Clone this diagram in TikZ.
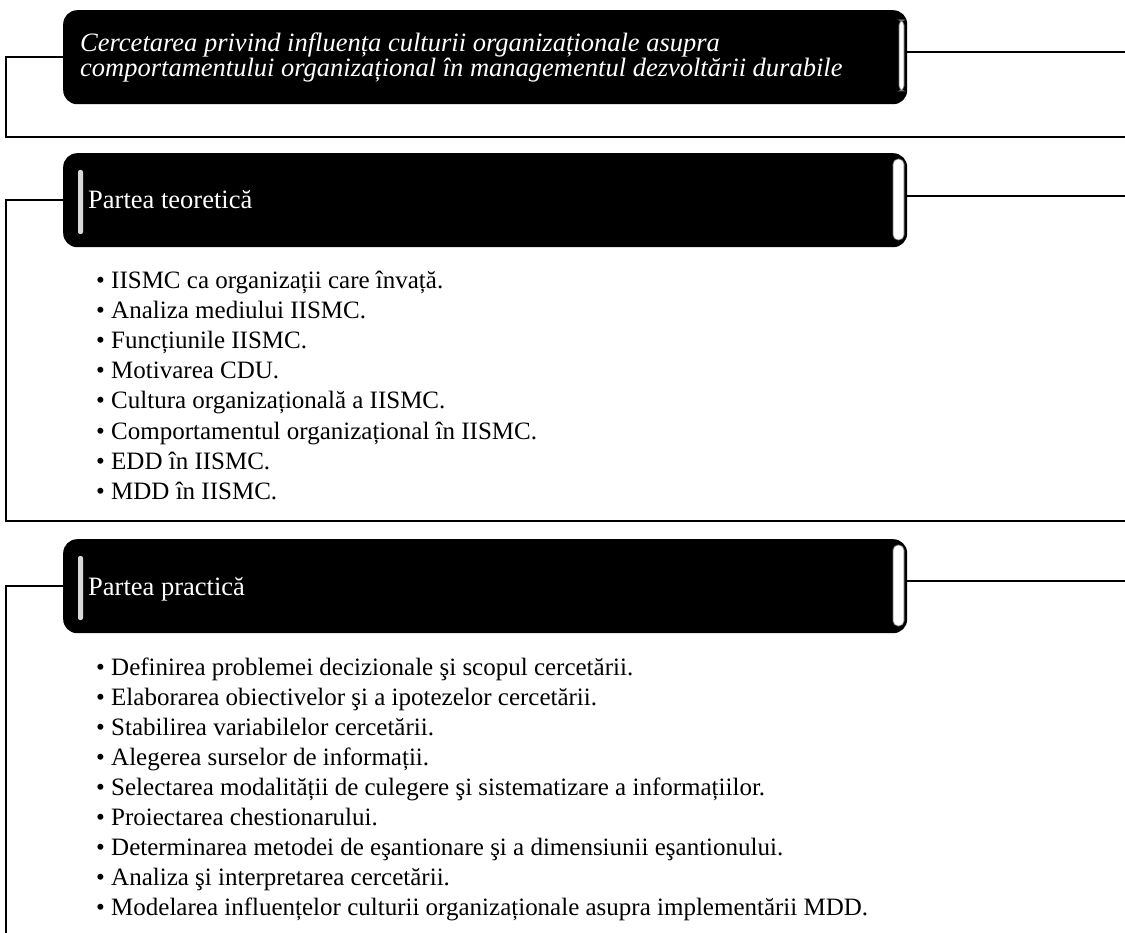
\documentclass[tikz,border=0pt]{standalone}
\usepackage{fontspec}
\setmainfont{Liberation Serif}
\begin{document}
\begin{tikzpicture}[x=1pt,y=-1pt,
  hdr/.style={fill=black, rounded corners=14pt, minimum width=844pt, minimum height=94pt, anchor=north west, inner sep=0pt},
  lbl/.style={text=white, anchor=base west, inner sep=0pt, font=\fontsize{26.5}{30}\selectfont},
  itm/.style={anchor=base west, inner sep=0pt, font=\fontsize{25}{30}\selectfont},
  brk/.style={line width=2.2pt},
  con/.style={line width=1.4pt},
  rbar/.style={fill=white, draw=black!55, line width=0.7pt, rounded corners=5pt},
  lbar/.style={fill=white!85!black, rounded corners=2pt}]
\useasboundingbox (0,0) rectangle (1125,933);
\fill[white] (0,0) rectangle (1125,933);

% header boxes
\node[hdr] (b1) at (63,10) {};
\node[hdr] (b2) at (63,153) {};
\node[hdr] (b3) at (63,539) {};

% bars
\draw[rbar] (899,20) rectangle (904,91);
\draw[rbar] (893,159) rectangle (904,240);
\draw[rbar] (893,545) rectangle (904,626);
\fill[lbar] (78,170) rectangle (83,234);
\fill[lbar] (78,556) rectangle (83,620);

% header texts
\node[anchor=west, text=white, align=left, inner sep=0pt,
      font=\fontsize{26.5}{25}\selectfont\itshape] (t1) at (80,57)
  {Cercetarea privind influența culturii organizaționale asupra\\comportamentului organizațional în managementul dezvoltării durabile};
\node[lbl] (t2) at (88,209) {Partea teoretică};
\node[lbl] (t3) at (88,595) {Partea practică};

% connectors
\coordinate (k1) at (6,137);  \coordinate (e1) at (1125,137); \coordinate (r1) at (1125,52);
\coordinate (k2) at (6,521);  \coordinate (e2) at (1125,521); \coordinate (r2) at (1125,196);
\coordinate (k3) at (6,933);  \coordinate (r3) at (1125,581);
\draw[brk] (b1.west) -| (k1) -- (e1);
\draw[brk] (b2.west) -| (k2) -- (e2);
\draw[brk] (b3.west) -| (k3);
\draw[con] (b1.east |- r1) -- (r1);
\draw[con] (b2.east |- r2) -- (r2);
\draw[con] (b3.east |- r3) -- (r3);

% list 1
\node[itm] (a1) at (96,289) {• IISMC ca organizații care învață.};
\node[itm] (a2) at (96,319) {• Analiza mediului IISMC.};
\node[itm] (a3) at (96,349) {• Funcțiunile IISMC.};
\node[itm] (a4) at (96,379) {• Motivarea CDU.};
\node[itm] (a5) at (96,409) {• Cultura organizațională a IISMC.};
\node[itm] (a6) at (96,439) {• Comportamentul organizațional în IISMC.};
\node[itm] (a7) at (96,469) {• EDD în IISMC.};
\node[itm] (a8) at (96,499) {• MDD în IISMC.};

% list 2
\node[itm] (p1) at (96,675) {• Definirea problemei decizionale şi scopul cercetării.};
\node[itm] (p2) at (96,705) {• Elaborarea obiectivelor şi a ipotezelor cercetării.};
\node[itm] (p3) at (96,735) {• Stabilirea variabilelor cercetării.};
\node[itm] (p4) at (96,765) {• Alegerea surselor de informații.};
\node[itm] (p5) at (96,795) {• Selectarea modalității de culegere şi sistematizare a informațiilor.};
\node[itm] (p6) at (96,825) {• Proiectarea chestionarului.};
\node[itm] (p7) at (96,855) {• Determinarea metodei de eşantionare şi a dimensiunii eşantionului.};
\node[itm] (p8) at (96,885) {• Analiza şi interpretarea cercetării.};
\node[itm] (p9) at (96,915) {• Modelarea influențelor culturii organizaționale asupra implementării MDD.};
\end{tikzpicture}
\end{document}
